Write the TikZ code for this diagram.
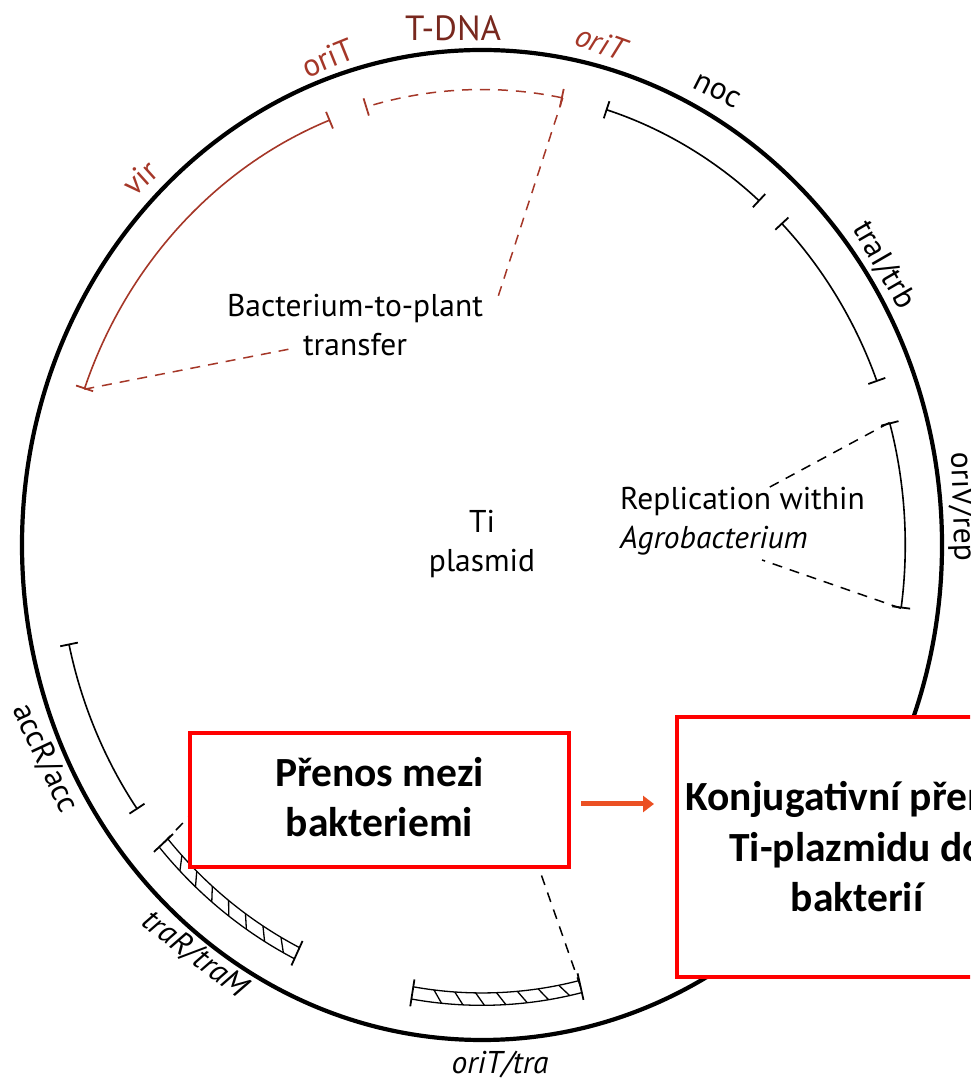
\documentclass[tikz,border=0pt]{standalone}
\usepackage{fontspec}
\usepackage{tikz}
\usetikzlibrary{arrows.meta,calc,positioning}
\newfontfamily\labfont{PT Sans}
\newfontfamily\boxfont{Carlito}
\definecolor{tdnacolor}{RGB}{120,40,30}
\definecolor{vircolor}{RGB}{165,55,40}
\definecolor{boxred}{RGB}{255,0,0}
\definecolor{arrowcolor}{RGB}{235,80,35}

\begin{document}
\begin{tikzpicture}[
    x=1pt, y=1pt,
    plasmid/.style={line width=4.2pt},
    gene/.style={line width=1.6pt, {Bar[width=18pt,line width=1.8pt]}-{Bar[width=18pt,line width=1.8pt]}},
    hatch/.style={line width=1.3pt},
    wedge/.style={line width=1.5pt, dash pattern=on 10pt off 8pt},
    lab/.style={font=\labfont\fontsize{31.5}{39}\selectfont, inner sep=1pt},
    redlab/.style={lab, text=vircolor},
    redbox/.style={rectangle, draw=boxred, line width=4pt, fill=white, align=center, font=\boxfont\bfseries\fontsize{41.5}{50.5}\selectfont},
    arrow/.style={-{Triangle[length=11pt,width=16pt]}, line width=5pt, draw=arrowcolor}
]
\useasboundingbox (0,0) rectangle (970,1081);
\clip (0,0) rectangle (970,1081);

% Plasmid ring
\coordinate (c) at (482,536);
\draw[plasmid] (c) ellipse [x radius=460, y radius=495];

% Gene arcs
\foreach \name/\a/\b/\col in {vir/111/160/vircolor, noc/49/73/black, trb/21/45/black, rep/-8/15.6/black, acc/192.5/215.5/black}
  \draw[gene, draw=\col] ($(c)+({0.92*460*cos(\a)},{0.92*495*sin(\a)})$) coordinate (\name-a)
    arc[start angle=\a, end angle=\b, x radius=0.92*460, y radius=0.92*495] coordinate (\name-b);

% T-DNA
\draw[gene, wedge, draw=vircolor] ($(c)+({0.92*460*cos(79)},{0.92*495*sin(79)})$) coordinate (tdna-a)
    arc[start angle=79, end angle=106, x radius=0.92*460, y radius=0.92*495] coordinate (tdna-b);

% Double hatched arcs
\foreach \name/\a/\b in {traM/221/244, tra/260.5/283.5} {
  \draw[hatch] ($(c)+({0.93*460*cos(\a)},{0.93*495*sin(\a)})$)
    arc[start angle=\a, end angle=\b, x radius=0.93*460, y radius=0.93*495];
  \draw[hatch] ($(c)+({0.905*460*cos(\a)},{0.905*495*sin(\a)})$)
    arc[start angle=\a, end angle=\b, x radius=0.905*460, y radius=0.905*495];
  \draw[line width=1.8pt] ($(c)+({0.89*460*cos(\a)},{0.89*495*sin(\a)})$) -- ($(c)+({0.945*460*cos(\a)},{0.945*495*sin(\a)})$);
  \draw[line width=1.8pt] ($(c)+({0.89*460*cos(\b)},{0.89*495*sin(\b)})$) -- ($(c)+({0.945*460*cos(\b)},{0.945*495*sin(\b)})$);
  \coordinate (\name-a) at ($(c)+({0.918*460*cos(\a)},{0.918*495*sin(\a)})$);
  \coordinate (\name-b) at ($(c)+({0.918*460*cos(\b)},{0.918*495*sin(\b)})$);
  \foreach \i in {1,...,7} {
    \pgfmathsetmacro\t{\a+\i*(\b-\a)/8}
    \draw[hatch] ($(c)+({0.905*460*cos(\t)},{0.905*495*sin(\t)})$) -- ($(c)+({0.93*460*cos(\t+1.2)},{0.93*495*sin(\t+1.2)})$);
  }
}

% Inner labels
\node[lab, align=center] (btp) at (355,756) {Bacterium-to-plant\\transfer};
\node[lab, align=left, anchor=west] (repl) at (619,560) {Replication within\\\textit{Agrobacterium}};
\node[lab, align=center] (ti) at (482,537) {Ti\\plasmid};

% Wedge ends
\coordinate (btpR) at (497,781);
\coordinate (btpL) at (295,733);
\coordinate (replU) at (768,593);
\coordinate (replD) at (762,521);
\coordinate (bbL) at (215,291);
\coordinate (bbR) at (515,281);

\draw[wedge, draw=vircolor] (tdna-a) -- (btpR);
\draw[wedge, draw=vircolor] (vir-b) -- (btpL);
\draw[wedge] (rep-b) -- (replU);
\draw[wedge] (rep-a) -- (replD);
\draw[wedge] (traM-a) -- (bbL);
\draw[wedge] (tra-b) -- (bbR);

% Outer labels
\node[redlab, rotate=42] (virlab) at (140,903) {vir};
\node[redlab, rotate=22] (oriTl) at (328,1023) {oriT};
\node[lab, text=tdnacolor, font=\labfont\fontsize{35}{40}\selectfont] (tdnalab) at (453,1053) {T-DNA};
\node[redlab, rotate=-20] (oriTr) at (602,1038) {\textit{oriT}};
\node[lab, rotate=-27] (noclab) at (717,990) {noc};
\node[lab, rotate=-60] (trblab) at (884,816) {traI/trb};
\node[lab, rotate=-88] (replab) at (961,574) {oriV/rep};
\node[lab, rotate=-65] (acclab) at (45,323) {accR/acc};
\node[lab, rotate=-37] (tramlab) at (195,126) {\textit{traR/traM}};
\node[lab] (oritlab) at (500,16) {\textit{oriT/tra}};

% Boxes
\node[redbox, minimum width=379, minimum height=134] (b1) at (379.5,281) {Přenos mezi\\bakteriemi\vphantom{Ty}};
\node[redbox, minimum width=360, minimum height=260] (b2) at (857,234) {Konjugativní přenos\\Ti-plazmidu do\\bakterií};
\draw[arrow, shorten <=10pt, shorten >=21pt] ([yshift=-4pt]b1.east) -- ([yshift=-4pt]b1.east -| b2.west);

\end{tikzpicture}
\end{document}
